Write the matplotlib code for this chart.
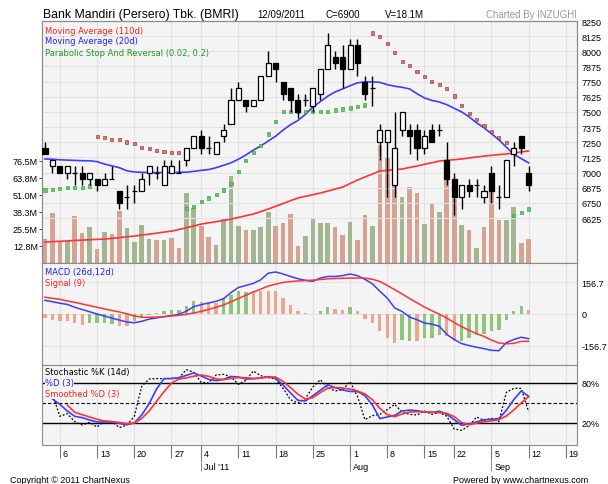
import numpy as np
import matplotlib.pyplot as plt

plt.rcParams['font.family'] = ['Liberation Sans', 'DejaVu Sans']

# trading days 1 Jun - 12 Sep 2011, x axis is the trading day index
week_pos = [2, 7, 12, 17, 21, 26, 31, 36, 41, 46, 51, 55, 60, 65, 70]
week_lbl = ['6', '13', '20', '27', '4', '11', '18', '25', '1', '8', '15', '22', '5', '12', '19']
month_pos = [21, 41, 60]
month_lbl = ["Jul '11", 'Aug', 'Sep']

opens = [7200, 7050, 7050, 7000, 7000, 7000, 6950, 6950, 6900, 6950,
         6850, 6800, 6850, 6850, 7000, 7000, 6900, 7000, 7000, 7100,
         7200, 7300, 7200, 7150, 7300, 7400, 7600, 7600, 7550, 7600,
         7800, 7900, 7750, 7700, 7600, 7600, 7550, 7650, 7850, 7950,
         7950, 7850, 8050, 7750, 7700, 7250, 7250, 6900, 7350, 7350,
         7350, 7200, 7350, 7350, 7100, 6950, 6800, 6900, 6900, 6800,
         7000, 6800, 6800, 7150, 7300, 7000]
highs = [7250, 7100, 7050, 7050, 7050, 7050, 7000, 6950, 7000, 7050,
         6850, 6900, 6900, 7000, 7050, 7050, 7100, 7100, 7100, 7200,
         7300, 7350, 7300, 7250, 7400, 7700, 7750, 7600, 7600, 7800,
         8000, 7900, 7750, 7700, 7650, 7650, 7700, 7850, 8150, 8000,
         8050, 8100, 8100, 7800, 7800, 7400, 7350, 7500, 7500, 7400,
         7400, 7350, 7400, 7400, 7250, 7000, 6900, 6950, 6950, 6900,
         7050, 6900, 7100, 7250, 7300, 7050]
lows = [7150, 7000, 7000, 6950, 6900, 6900, 6900, 6850, 6900, 6950,
        6700, 6700, 6750, 6850, 6900, 6950, 6900, 7000, 7000, 7050,
        7200, 7150, 7150, 7150, 7250, 7400, 7600, 7500, 7550, 7600,
        7800, 7750, 7600, 7500, 7450, 7550, 7500, 7600, 7850, 7850,
        7700, 7850, 7800, 7600, 7550, 7100, 6800, 6800, 7300, 7150,
        7100, 7150, 7250, 7300, 6900, 6650, 6700, 6800, 6800, 6750,
        6750, 6700, 6800, 7050, 7150, 6850]
closes = [7150, 7100, 7000, 7050, 7000, 6950, 7000, 6900, 6950, 6950,
          6750, 6800, 6850, 6950, 7050, 7000, 7050, 7050, 7000, 7200,
          7300, 7200, 7200, 7250, 7350, 7600, 7700, 7550, 7600, 7800,
          7900, 7850, 7650, 7600, 7500, 7600, 7700, 7850, 8050, 7900,
          7850, 8050, 7900, 7650, 7700, 7350, 7350, 7200, 7500, 7300,
          7200, 7300, 7250, 7350, 6950, 6800, 6900, 6850, 6900, 6850,
          6850, 6800, 7100, 7200, 7200, 6900]

volume_m = [18, 37.2, 15.5, 16.7, 35, 22.2, 26.7, 10.5, 23, 22,
            39.2, 26, 15.5, 28.7, 18, 17.2, 17.2, 18.7, 11.2, 52.5,
            41.2, 28, 19.7, 13.7, 33, 65.5, 28, 24.7, 25, 27.2,
            38.5, 28, 30, 36.5, 13, 19.9, 33.7, 30, 30, 27,
            21.2, 30.7, 17.3, 36, 27.5, 88.6, 78.5, 57.6, 49.5, 57,
            52.6, 29.4, 45, 38.2, 62.6, 48, 28.6, 24.4, 11, 27,
            53.9, 32.5, 32, 41.8, 15.3, 18.1]
volume_up = [0, 0, 0, 1, 0, 0, 1, 0, 1, 0,
             0, 1, 1, 1, 1, 0, 1, 0, 0, 1,
             1, 0, 0, 1, 1, 1, 1, 0, 1, 1,
             1, 0, 0, 0, 0, 1, 1, 1, 1, 0,
             0, 1, 0, 0, 1, 0, 0, 0, 1, 0,
             0, 1, 0, 1, 0, 0, 1, 0, 1, 0,
             0, 0, 1, 1, 0, 0]

ma110 = [6427, 6430, 6433, 6436, 6440, 6443, 6446, 6449, 6451, 6457,
         6463, 6470, 6476, 6484, 6492, 6500, 6509, 6517, 6530, 6545,
         6560, 6575, 6585, 6595, 6605, 6616, 6630, 6644, 6658, 6678,
         6699, 6722, 6745, 6768, 6790, 6804, 6817, 6831, 6847, 6864,
         6880, 6909, 6938, 6963, 6988, 7013, 7018, 7024, 7029, 7042,
         7054, 7068, 7081, 7095, 7101, 7106, 7112, 7120, 7128, 7136,
         7142, 7148, 7153, 7161, 7170, 7178]
ma20 = [7112, 7110, 7105, 7103, 7100, 7098, 7097, 7090, 7070, 7055,
        7040, 7015, 7005, 7002, 7000, 7000, 7000, 7000, 7002, 7003,
        7010, 7018, 7025, 7040, 7060, 7080, 7110, 7145, 7185, 7220,
        7260, 7300, 7350, 7395, 7430, 7480, 7540, 7585, 7630, 7665,
        7690, 7716, 7740, 7748, 7748, 7744, 7725, 7712, 7703, 7690,
        7650, 7615, 7595, 7582, 7560, 7530, 7500, 7460, 7410, 7370,
        7320, 7270, 7210, 7150, 7115, 7080]
psar = [6856, 6861, 6872, 6880, 6880, 6880, 6889, 7299, 7290, 7276,
        7271, 7252, 7238, 7208, 7200, 7180, 7175, 7163, 7163, 6707,
        6721, 6763, 6790, 6817, 6856, 6911, 7010, 7098, 7167, 7221,
        7318, 7423, 7502, 7500, 7500, 7500, 7500, 7500, 7502, 7516,
        7524, 7532, 7546, 7557, 8151, 8124, 8066, 7992, 7914, 7881,
        7835, 7790, 7753, 7728, 7695, 7631, 7551, 7485, 7441, 7385,
        7336, 7289, 7246, 6646, 6671, 6699]

macd = [67, 60, 53, 47, 33, 22, 11, 0, -10, -20,
        -30, -39, -43, -36, -25, -19, -13, -7, -2, 14,
        36, 46, 54, 62, 75, 105, 130, 140, 150, 168,
        200, 206, 196, 184, 173, 165, 160, 176, 184, 184,
        188, 196, 188, 170, 148, 112, 78, 30, 12, -15,
        -28, -44, -50, -60, -100, -125, -145, -155, -163, -170,
        -178, -180, -140, -125, -114, -121]
signal = [82, 77, 72, 64, 57, 49, 41, 33, 25, 17,
          10, 1, -9, -16, -16, -15, -13, -10, -6, -2,
          5, 13, 23, 33, 44, 60, 76, 92, 108, 122,
          137, 146, 155, 159, 162, 164, 166, 169, 172, 174,
          175, 176, 176, 176, 170, 160, 140, 119, 98, 76,
          55, 34, 16, -1, -20, -42, -62, -80, -96, -110,
          -128, -142, -146, -144, -134, -134]
hist = [-20, -28, -36, -36, -44, -52, -44, -44, -44, -49,
        -60, -60, -36, -16, -7, 5, 16, 21, 21, 38,
        62, 59, 54, 54, 78, 95, 111, 108, 111, 111,
        111, 111, 78, 46, 16, 5, 2, 13, 33, 26,
        21, 33, 16, -23, -44, -85, -117, -142, -126, -131,
        -134, -117, -117, -101, -109, -131, -131, -117, -104, -98,
        -85, -77, -28, 13, 38, 21]
hist_up = [0, 0, 0, 0, 0, 0, 1, 1, 1, 1,
           0, 0, 1, 1, 1, 1, 1, 1, 1, 1,
           1, 0, 0, 0, 1, 1, 1, 1, 0, 0,
           0, 0, 0, 0, 0, 0, 0, 1, 1, 0,
           0, 1, 0, 0, 0, 0, 0, 0, 1, 1,
           0, 1, 1, 1, 0, 0, 1, 1, 1, 1,
           1, 1, 1, 1, 1, 0]

nan = np.nan
stoch_k = [nan, 63, 30, 34, 22, 17, 21, 14, 23, 22,
           13, 17, 30, 75, 86, 86.6, 86.6, 87, 87.6, 100,
           96, 81, 80, 92, 93, 89, 78, 84, 98, 91,
           88, 86, 72, 55, 50, 57, 74, 85, 73, 68,
           70, 82, 60, 25, 31, 33, 40, 48, 36, 33,
           32, 38, 33, 36, 30, 11, 9, 16, 29, 24,
           27, 22, 66, 72, 72, 37]
stoch_d = [nan, 56, 48, 38, 30, 28, 24.5, 21.5, 21.5, 21,
           19.5, 17.5, 20, 32, 49, 71, 86.6, 86.6, 87.8, 91.5,
           95, 90.5, 85.5, 83.6, 85.5, 89.8, 89, 86, 86.3, 87.6,
           89.5, 87, 77, 65, 54, 53, 61, 69, 77.5, 73,
           69.5, 67.3, 67.3, 61, 47, 26.7, 29, 31.5, 38, 39.4,
           38.4, 36.6, 35.8, 37.8, 33, 25, 16.5, 18.4, 21.7, 24.8,
           25.4, 26.6, 39, 55, 68, 60]
stoch_sd = [nan, nan, nan, 47, 36, 32.5, 29, 25.5, 23, 22,
            20.8, 19, 20, 26.8, 38, 52.5, 67, 80, 86, 87.6,
            90.2, 92, 90, 86.2, 85, 87, 88.2, 88, 86.8, 87.3,
            89, 89, 82.5, 73, 63, 56, 58, 65.5, 72.4, 73.2,
            72.5, 71, 68, 63.5, 55, 42, 32.5, 29.5, 33.5, 36.5,
            36.8, 36.8, 36.4, 35.5, 34.6, 29.5, 20.5, 17.5, 19.8, 21.7,
            23.2, 25, 30.5, 39.5, 50, 59.7]

price_ticks = [6625, 6750, 6875, 7000, 7125, 7250, 7375, 7500, 7625, 7750, 7875, 8000, 8125, 8250]
vol_ticks = [12.75, 25.5, 38.25, 51.0, 63.75, 76.5]
vol_lbl = ['12.8M', '25.5M', '38.3M', '51.0M', '63.8M', '76.5M']

W_PX, H_PX = 608, 485
bg = '#f4f4f4'
gridc = '#e2e2e2'
framec = '#8a8a8a'
pink = '#d6a393'
olive = '#a5b592'


def px(x, y):
    return x / W_PX, 1 - y / H_PX


def panel(top, bottom):
    return [42 / W_PX, 1 - bottom / H_PX, 535 / W_PX, (bottom - top) / H_PX]


fig = plt.figure(figsize=(6.08, 4.85), dpi=100)
ax_v = fig.add_axes(panel(22, 264))
ax_p = ax_v.twinx()
ax_m = fig.add_axes(panel(264, 366), sharex=ax_v)
ax_s = fig.add_axes(panel(366, 446), sharex=ax_v)

x = np.arange(len(closes))
o = np.array(opens)
c = np.array(closes)

for ax in (ax_v, ax_m, ax_s):
    ax.set_facecolor(bg)
    ax.set_axisbelow(True)
    ax.grid(axis='x', which='major', color=gridc, lw=0.8)
for ax in (ax_v, ax_p, ax_m, ax_s):
    for s in ax.spines.values():
        s.set_color(framec)

ax_v.set_xlim(-0.4, 71.5)
ax_s.set_xticks(week_pos)
ax_s.set_xticks(month_pos, minor=True)
ax_s.xaxis.remove_overlapping_locs = False

# volume
ax_v.bar(x, volume_m, width=0.62, color=[olive if u else pink for u in volume_up])
ax_v.set_ylim(0, 181.5)
ax_v.set_yticks(vol_ticks)
ax_v.set_yticklabels(vol_lbl)
ax_v.tick_params(axis='y', length=2, color='#555', labelsize=6.5, pad=1)
ax_v.tick_params(axis='x', which='both', length=0, labelbottom=False)

# price
ax_p.set_ylim(6254, 8250)
ax_p.set_yticks(price_ticks)
ax_p.tick_params(axis='y', length=0, labelsize=6.5, pad=3)
ax_p.grid(axis='y', color=gridc, lw=0.8)
ax_p.plot(x, ma110, color='#ff3333', lw=1.2, zorder=2)
ax_p.plot(x, ma20, color='#3d3dff', lw=1.2, zorder=2)
sar = np.array(psar)
ax_p.scatter(x, sar, marker='s', s=5, zorder=2.5, linewidths=0.4,
             color=['#c98080' if s > cc else '#6fc46f' for s, cc in zip(sar, c)],
             edgecolors=['#a01818' if s > cc else '#1e9a1e' for s, cc in zip(sar, c)])
ax_p.vlines(x, lows, highs, color='black', lw=1, zorder=3)
ax_p.bar(x, np.abs(c - o), bottom=np.minimum(o, c), width=0.68,
         color=['white' if cc >= oo else 'black' for oo, cc in zip(o, c)],
         edgecolor='black', lw=0.9, zorder=4)

# MACD
ax_m.bar(x, hist, width=0.45, color=['#8fc47a' if u else '#efa48e' for u in hist_up])
ax_m.plot(x, macd, color='#3d3dff', lw=1.1)
ax_m.plot(x, signal, color='#ff3333', lw=1.1)
ax_m.set_ylim(-250, 250)
ax_m.set_yticks([156.7, 0, -156.7])
ax_m.set_yticklabels(['156.7', '0', '-156.7'])
ax_m.yaxis.tick_right()
ax_m.tick_params(axis='y', length=0, labelsize=6.5, pad=3)
ax_m.tick_params(axis='x', which='both', length=0, labelbottom=False)
ax_m.grid(axis='y', color=gridc, lw=0.8)

# stochastic
ax_s.axhline(80, color='black', lw=1)
ax_s.axhline(20, color='black', lw=1)
ax_s.axhline(50, color='black', lw=0.8, ls=(0, (3, 2)))
ax_s.plot(x, stoch_k, color='black', lw=0.9, ls=(0, (1.5, 1.5)))
ax_s.plot(x, stoch_d, color='#3d3dff', lw=1.2)
ax_s.plot(x, stoch_sd, color='#ff3333', lw=1.2)
ax_s.set_ylim(-13, 107)
ax_s.set_yticks([80, 20])
ax_s.set_yticklabels(['80%', '20%'])
ax_s.yaxis.tick_right()
ax_s.tick_params(axis='y', length=0, labelsize=6.5, pad=3)
ax_s.tick_params(axis='x', which='major', length=9, color='#777', direction='out', labelbottom=False)
ax_s.tick_params(axis='x', which='minor', length=19, color='#777', direction='out', labelbottom=False)

for p, t in zip(week_pos, week_lbl):
    ax_s.annotate(t, (p, 0), xycoords=('data', 'axes fraction'), xytext=(2, -3),
                  textcoords='offset points', va='top', ha='left', fontsize=6.5)
for p, t in zip(month_pos, month_lbl):
    ax_s.annotate(t, (p, 0), xycoords=('data', 'axes fraction'), xytext=(2, -12),
                  textcoords='offset points', va='top', ha='left', fontsize=6.5)

# header / legends
fig.text(*px(3, 4), 'BMRI', fontsize=15, fontweight='bold', va='bottom', ha='left')
fig.text(*px(43, 15), 'Bank Mandiri (Persero) Tbk. (BMRI)', fontsize=8.8, va='center')
fig.text(*px(257, 15), '12/09/2011', fontsize=7, va='center')
fig.text(*px(325, 15), 'C=6900', fontsize=7, va='center')
fig.text(*px(385, 15), 'V=18.1M', fontsize=7, va='center')
fig.text(*px(577, 15), 'Charted By INZUGHI', fontsize=7, va='center', ha='right', color='#999999')

leg = dict(fontsize=6, va='center', family='DejaVu Sans')
fig.text(*px(45, 31), 'Moving Average (110d)', color='#ff2020', **leg)
fig.text(*px(45, 42), 'Moving Average (20d)', color='#2020ff', **leg)
fig.text(*px(45, 53), 'Parabolic Stop And Reversal (0.02, 0.2)', color='#1a9a1a', **leg)
fig.text(*px(45, 273), 'MACD (26d,12d)', color='#2020ff', **leg)
fig.text(*px(45, 283), 'Signal (9)', color='#ff2020', **leg)
box = dict(facecolor=bg, edgecolor='none', pad=0.3)
fig.text(*px(45, 373), 'Stochastic %K (14d)', color='black', bbox=box, **leg)
fig.text(*px(45, 384), '%D (3)', color='#2020ff', bbox=box, **leg)
fig.text(*px(45, 395), 'Smoothed %D (3)', color='#ff2020', bbox=box, **leg)

fig.text(*px(10, 481), 'Copyright \u00a9 2011 ChartNexus', fontsize=6.5, va='center')
fig.text(*px(453, 481), 'Powered by www.chartnexus.com', fontsize=6.5, va='center')

fig.savefig('out.png', dpi=100, facecolor='white')
